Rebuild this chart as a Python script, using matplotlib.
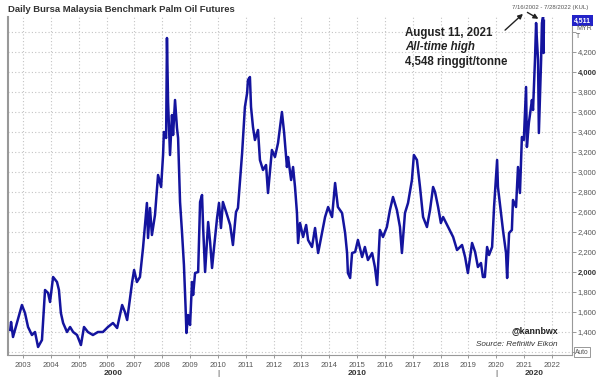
import matplotlib
matplotlib.use("Agg")
import matplotlib.pyplot as plt

plt.rcParams["font.family"] = ["Liberation Sans", "DejaVu Sans"]

# daily palm oil futures (decimal year, MYR/tonne)
years = [
    2002.54, 2002.57, 2002.64, 2002.78, 2002.96, 2003.07, 2003.18, 2003.32, 2003.43, 2003.54,
    2003.68, 2003.79, 2003.90, 2003.97, 2004.08, 2004.22, 2004.29, 2004.36, 2004.44, 2004.58,
    2004.69, 2004.80, 2004.94, 2005.08, 2005.19, 2005.33, 2005.51, 2005.69, 2005.87, 2006.05,
    2006.23, 2006.38, 2006.56, 2006.66, 2006.74, 2006.92, 2006.99, 2007.09, 2007.20, 2007.31,
    2007.45, 2007.49, 2007.56, 2007.63, 2007.74, 2007.85, 2007.96, 2008.03, 2008.06, 2008.14,
    2008.17, 2008.21, 2008.28, 2008.35, 2008.39, 2008.46, 2008.53, 2008.57, 2008.64, 2008.71,
    2008.78, 2008.84, 2008.87, 2008.93, 2009.00, 2009.07, 2009.11, 2009.18, 2009.29, 2009.36,
    2009.43, 2009.47, 2009.54, 2009.65, 2009.72, 2009.79, 2009.86, 2009.97, 2010.04, 2010.11,
    2010.18, 2010.33, 2010.44, 2010.54, 2010.65, 2010.72, 2010.79, 2010.87, 2010.97, 2011.05,
    2011.08, 2011.15, 2011.19, 2011.26, 2011.33, 2011.44, 2011.51, 2011.62, 2011.73, 2011.80,
    2011.94, 2012.05, 2012.16, 2012.30, 2012.38, 2012.48, 2012.52, 2012.63, 2012.70, 2012.77,
    2012.84, 2012.88, 2012.95, 2013.06, 2013.17, 2013.24, 2013.38, 2013.49, 2013.60, 2013.74,
    2013.85, 2013.96, 2014.10, 2014.21, 2014.31, 2014.46, 2014.57, 2014.64, 2014.67, 2014.75,
    2014.82, 2014.93, 2015.03, 2015.18, 2015.28, 2015.39, 2015.54, 2015.64, 2015.72, 2015.82,
    2015.93, 2016.07, 2016.18, 2016.29, 2016.43, 2016.54, 2016.61, 2016.72, 2016.83, 2016.97,
    2017.04, 2017.15, 2017.26, 2017.37, 2017.51, 2017.62, 2017.73, 2017.80, 2017.91, 2018.01,
    2018.09, 2018.27, 2018.45, 2018.59, 2018.77, 2018.88, 2018.98, 2019.13, 2019.24, 2019.34,
    2019.45, 2019.52, 2019.59, 2019.67, 2019.74, 2019.85, 2019.92, 2020.03, 2020.06, 2020.17,
    2020.24, 2020.35, 2020.39, 2020.46, 2020.56, 2020.60, 2020.71, 2020.78, 2020.85, 2020.92,
    2020.99, 2021.07, 2021.10, 2021.17, 2021.28, 2021.32, 2021.39, 2021.43, 2021.46, 2021.50,
    2021.53, 2021.57, 2021.61, 2021.64, 2021.68, 2021.70, 2021.71,
]
prices = [
    1420, 1500, 1350, 1490, 1670, 1590, 1450, 1370, 1400, 1250,
    1320, 1820, 1790, 1700, 1950, 1900, 1820, 1590, 1490, 1400,
    1450, 1400, 1370, 1270, 1450, 1400, 1370, 1400, 1400, 1450,
    1490, 1440, 1670, 1600, 1520, 1900, 2020, 1900, 1950, 2240,
    2690, 2340, 2640, 2370, 2570, 2970, 2850, 3170, 3400, 3340,
    4340, 3700, 3170, 3570, 3370, 3720, 3440, 3340, 2700, 2400,
    2070, 1640, 1390, 1570, 1470, 1900, 1770, 1990, 2000, 2700,
    2770, 2440, 2000, 2500, 2300, 2040, 2240, 2540, 2690, 2440,
    2700, 2570, 2470, 2270, 2600, 2640, 2890, 3190, 3650, 3790,
    3920, 3950, 3650, 3450, 3320, 3420, 3120, 3020, 3070, 2790,
    3220, 3150, 3290, 3600, 3390, 3050, 3150, 2920, 3050, 2850,
    2590, 2290, 2490, 2350, 2470, 2320, 2250, 2440, 2190, 2390,
    2550, 2650, 2550, 2890, 2650, 2590, 2390, 2190, 1990, 1940,
    2190, 2200, 2320, 2150, 2250, 2120, 2190, 2050, 1870, 2420,
    2350, 2450, 2620, 2750, 2620, 2450, 2190, 2590, 2690, 2920,
    3170, 3120, 2850, 2550, 2450, 2620, 2850, 2800, 2650, 2490,
    2550, 2450, 2350, 2220, 2270, 2150, 1990, 2290, 2200, 2050,
    2090, 1950, 1950, 2250, 2170, 2250, 2650, 3120, 2850, 2590,
    2420, 2190, 1940, 2390, 2420, 2720, 2650, 3050, 2790, 3350,
    3320, 3850, 3250, 3490, 3720, 3620, 4120, 4490, 4320, 4120,
    3390, 3750, 4120, 4490, 4548, 4190, 4511,
]

year_ticks = list(range(2003, 2023))
price_ticks = list(range(1200, 4401, 200))
decades = ["2000", "2010", "2020"]
decade_pos = [2006.25, 2015.0, 2021.35]
decade_breaks = [2010, 2020]
peak_year, peak_value = 2021.68, 4548
last_value = prices[-1]

LINE = "#14149e"
GRID = "#c4c4c4"
TXT = "#555555"

fig = plt.figure(figsize=(6, 3.8), dpi=100)
W, H = 600, 380
ax = fig.add_axes([8 / W, 1 - 355 / H, 564 / W, 338 / H])

ax.plot(years, prices, color=LINE, lw=1.8, solid_joinstyle="round")
ax.set_xlim(2002.46, 2022.72)
ax.set_ylim(1170, 4550)

ax.set_xticks(year_ticks)
ax.set_xticklabels([str(y) for y in year_ticks])
ax.yaxis.tick_right()
ax.set_yticks(price_ticks)
ax.set_yticklabels(["" if p in (1200, 4400) else f"{p:,}" for p in price_ticks])
ax.tick_params(axis="y", length=3, width=0.6, color="#888888", labelsize=5.5,
               labelcolor=TXT, pad=1)
ax.tick_params(axis="x", length=2, width=0.6, color="#888888", labelsize=5.5,
               labelcolor=TXT, pad=3)
for lab in ax.get_yticklabels():
    if lab.get_text() in ("2,000", "4,000"):
        lab.set_fontweight("bold")
        lab.set_color("#333333")

ax.grid(True, color=GRID, linestyle=(0, (1, 2)), lw=0.8)
ax.set_axisbelow(True)
ax.spines["top"].set_visible(False)
ax.spines["left"].set_color("#999999")
ax.spines["left"].set_linewidth(1.5)
ax.spines["bottom"].set_color("#999999")
ax.spines["right"].set_color("#999999")
ax.spines["right"].set_linewidth(0.8)

# decade row under the year labels
for lab, pos in zip(decades, decade_pos):
    ax.text(pos, -0.043, lab, transform=ax.get_xaxis_transform(), ha="center",
            va="top", fontsize=6, fontweight="bold", color="#333333")
for b in decade_breaks:
    ax.text(b, -0.043, "|", transform=ax.get_xaxis_transform(), ha="center",
            va="top", fontsize=6, color="#333333")

fig.text(8 / W, 1 - 9 / H, "Daily Bursa Malaysia Benchmark Palm Oil Futures",
         fontsize=6.8, fontweight="bold", color="#333333", va="center", ha="left")
fig.text(550 / W, 1 - 8 / H, "7/16/2002 - 7/28/2022 (KUL)", fontsize=4.3,
         color=TXT, va="center", ha="center")

fig.text(405 / W, 1 - 33 / H, "August 11, 2021", fontsize=8.3, fontweight="bold",
         color="#222222", va="center", ha="left")
fig.text(405 / W, 1 - 47 / H, "All-time high", fontsize=8.3, fontweight="bold",
         fontstyle="italic", color="#222222", va="center", ha="left")
fig.text(405 / W, 1 - 62 / H, "4,548 ringgit/tonne", fontsize=8.3, fontweight="bold",
         color="#222222", va="center", ha="left")

ax.annotate("", xy=(525 / W, 1 - 12 / H), xycoords="figure fraction",
            xytext=(503 / W, 1 - 32 / H), textcoords="figure fraction",
            arrowprops=dict(arrowstyle="-|>", color="#222222", lw=1.0,
                            mutation_scale=7))
ax.annotate("", xy=(peak_year - 0.08, peak_value - 30), xycoords="data",
            xytext=(525 / W, 1 - 11 / H), textcoords="figure fraction",
            arrowprops=dict(arrowstyle="-|>", color="#222222", lw=1.0,
                            mutation_scale=7), annotation_clip=False)

# last price box on the right axis
ax.text(1.003, last_value, f"{last_value:,}", transform=ax.get_yaxis_transform(),
        ha="left", va="center", fontsize=5, fontweight="bold", color="white",
        bbox=dict(boxstyle="square,pad=0.3", fc="#2323c8", ec="none"))
fig.text(576 / W, 1 - 28 / H, "MYR", fontsize=5, color=TXT, va="center", ha="left")
fig.text(576 / W, 1 - 36 / H, "T", fontsize=5, color=TXT, va="center", ha="left")

fig.text(558 / W, 1 - 331 / H, "@kannbwx", fontsize=6.4, fontweight="bold",
         color="#222222", va="center", ha="right")
fig.text(557 / W, 1 - 345 / H, "Source: Refinitiv Eikon", fontsize=5.9,
         fontstyle="italic", color="#333333", va="center", ha="right")
fig.text(582 / W, 1 - 352 / H, "Auto", fontsize=4.8, color=TXT, va="center",
         ha="center", bbox=dict(boxstyle="square,pad=0.2", fc="white",
                                ec="#888888", lw=0.6))

fig.savefig("out.png", dpi=100)
